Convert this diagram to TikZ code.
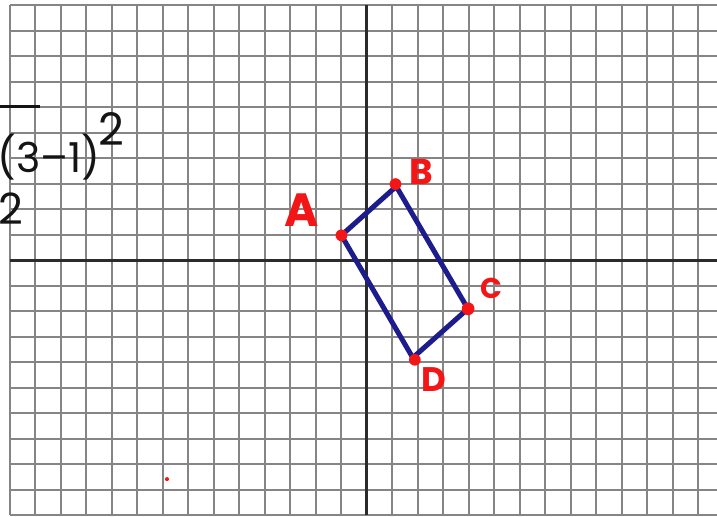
\documentclass[tikz,border=0pt]{standalone}
\usepackage{fontspec}
\setmainfont{Poppins}
\usetikzlibrary{positioning}
\definecolor{plotGridGray}{HTML}{858585}
\definecolor{plotAxisInk}{HTML}{2B2B2B}
\definecolor{plotSideBlue}{HTML}{1D1C8C}
\definecolor{plotPointRed}{HTML}{F21616}
\definecolor{plotPenInk}{HTML}{141414}
\tikzset{
  plot/grid/.style={draw=plotGridGray, line width=1.1pt, step=0.5cm},
  plot/axis/.style={draw=plotAxisInk, line width=1.6pt},
  plot/side/.style={draw=plotSideBlue, line width=2.8pt, line join=round,
    line cap=round},
  plot/point/.style={circle, fill=plotPointRed, inner sep=0pt,
    minimum size=2.3mm},
  plot/speck/.style={circle, fill=plotPointRed, inner sep=0pt,
    minimum size=0.8mm},
  plot/label/.style={text=plotPointRed, inner sep=0pt},
  plot/pen/.style={text=plotPenInk, inner sep=0pt},
  plot/vinculum/.style={draw=plotPenInk, line width=1.7pt},
}

\begin{document}
\begin{tikzpicture}[x=0.5cm, y=0.5cm]
\useasboundingbox (-14.39,-10.03) rectangle (13.73,10.21);

% ===== Squared paper and axes =====
\draw[plot/grid] (-14,-10) grid (13.73,10);
\draw[plot/axis] (-14,0) -- (13.73,0);
\draw[plot/axis] (0,-10) -- (0,10);

% ===== Quadrilateral ABCD =====
\coordinate (A) at (-1.00, 0.98);
\coordinate (B) at ( 1.15, 2.90);
\coordinate (C) at ( 3.96,-1.90);
\coordinate (D) at ( 1.80,-3.82);
\draw[plot/side] (A) -- (B) -- (C) -- (D) -- cycle;

\node[plot/point] (ptA) at (A) {};
\node[plot/point] (ptB) at (1.12, 2.99) {};
\node[plot/point, minimum size=2.5mm] (ptC) at (3.97,-1.90) {};
\node[plot/point] (ptD) at (1.88,-3.90) {};

% vertex letters
\node[plot/label, font=\bfseries\fontsize{26}{26}\selectfont] (labA) at (-2.55, 1.97) {A};
\node[plot/label, font=\bfseries\fontsize{20}{20}\selectfont] (labB) at ( 2.12, 3.46) {B};
\node[plot/label, font=\bfseries\fontsize{16}{16}\selectfont] (labC) at ( 4.90,-1.10) {C};
\node[plot/label, font=\bfseries\fontsize{19}{19}\selectfont] (labD) at ( 2.63,-4.69) {D};

\node[plot/speck] (speck) at (-7.84,-8.58) {};

% ===== Working at the left edge =====
\draw[plot/vinculum] (-14.39,6.02) -- (-12.82,6.02);
\node[plot/pen, anchor=base west, font=\fontsize{23}{23}\selectfont]
  (diff) at (-14.50,3.46) {(3–1)};
\node[plot/pen, anchor=base west, font=\fontsize{25}{25}\selectfont]
  (power) at (-10.55,4.50) {2};
\node[plot/pen, anchor=base west, font=\fontsize{24}{24}\selectfont]
  (two) at (-14.45,1.42) {2};

\end{tikzpicture}
\end{document}
